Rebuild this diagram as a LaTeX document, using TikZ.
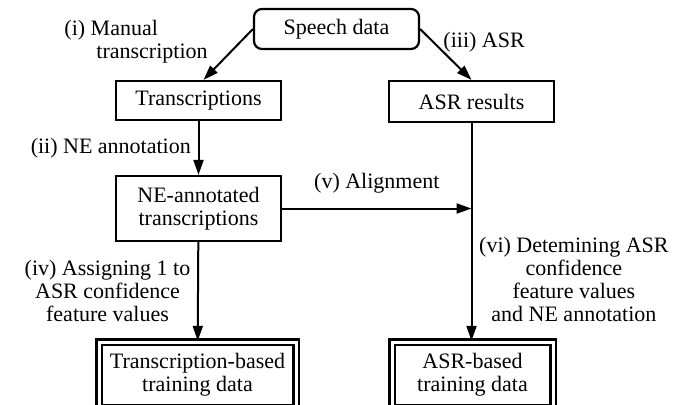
\documentclass[tikz,border=0pt]{standalone}
\usepackage{fontspec}
\setmainfont{Liberation Serif}
\usetikzlibrary{arrows.meta}

\begin{document}
\begin{tikzpicture}[x=0.5pt,y=-0.5pt,
    font=\fontsize{11}{11.5}\selectfont,
    box/.style={draw,line width=1.1pt,minimum width=82.5pt,align=center},
    dbox/.style={draw,line width=1.2pt,double,double distance=1.5pt,
        minimum width=#1,minimum height=33pt,align=center},
    arr/.style={line width=1pt,-{Triangle[length=7.5pt,width=5pt]}}]
    \useasboundingbox (0,0) rectangle (673,404);
    \node[box,rounded corners=4pt,minimum height=20pt] (sp) at (336.5,29) {Speech data};
    \node[box,minimum height=19.5pt] (tr) at (198.5,100.5) {Transcriptions};
    \node[box,minimum height=20.5pt] (asr) at (471.5,101.5) {ASR results};
    \node[box,minimum height=32.5pt] (ne) at (198.5,208.5) {NE-annotated\\transcriptions};
    \node[dbox=98.5pt] (tb) at (197.5,375) {Transcription-based\\training data};
    \node[dbox=80.5pt] (ab) at (472.5,375) {ASR-based\\training data};

    \draw[arr] (sp.west) -- node[pos=0.7,above left,align=left,xshift=-1.5pt,yshift=-3pt]
        {(i) Manual\\\hspace*{16pt}transcription} ([xshift=2.5pt]tr.north);
    \draw[arr] (sp.east) -- node[above right,xshift=-5pt,yshift=-2.5pt] {(iii) ASR} (asr.north);
    \draw[arr] (tr) -- node[left] {(ii) NE annotation} (ne);
    \draw[arr] (ne) -- node[left,align=center]
        {(iv) Assigning 1 to\\ASR confidence\\feature values} (tb);
    \draw[arr] (ne.east) -- node[above=4pt] {(v) Alignment} (ne.east -| asr.south);
    \draw[arr] (asr.south) -- node[pos=0.72,right,align=center]
        {(vi) Detemining ASR\\confidence\\feature values\\and NE annotation} (asr.south |- ab.north);
\end{tikzpicture}
\end{document}
